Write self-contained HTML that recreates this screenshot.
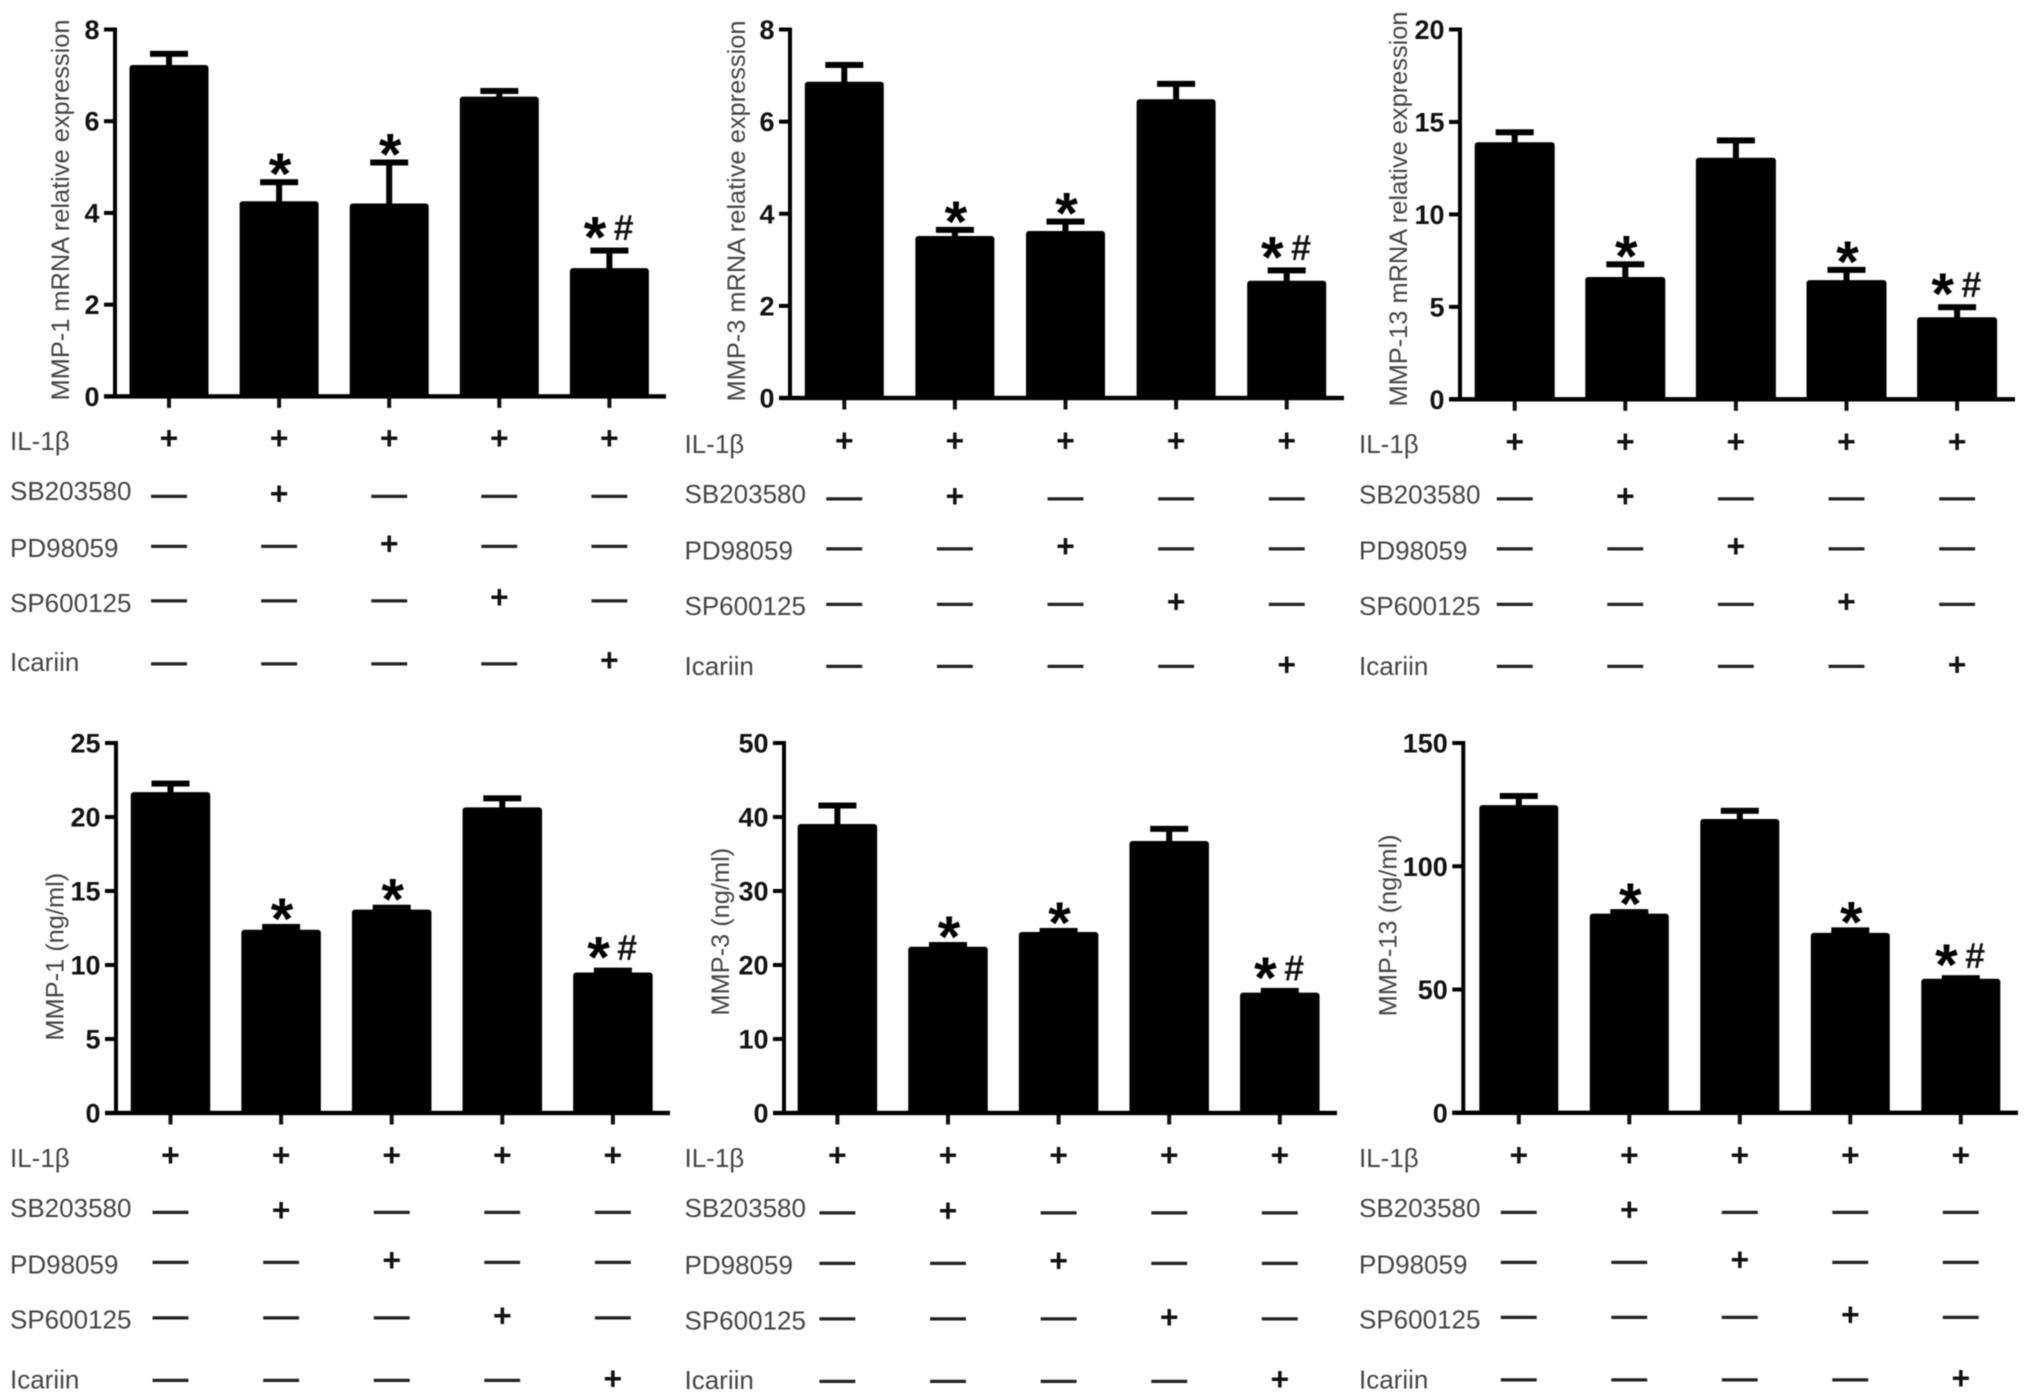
<!DOCTYPE html>
<html lang="en">
<head>
<meta charset="utf-8">
<title>MMP expression bar charts</title>
<style>
html,body{margin:0;padding:0;background:#fff;}
body{width:2031px;height:1400px;overflow:hidden;}
svg{display:block;filter:blur(0.55px);}
text{font-family:"Liberation Sans",Arial,sans-serif;}
</style>
</head>
<body>
<svg id="figure" xmlns="http://www.w3.org/2000/svg" width="2031" height="1400" viewBox="0 0 2031 1400"></svg>
<script>
// ---- shared categories and treatment table ----
const categories = ['IL-1β', 'IL-1β + SB203580', 'IL-1β + PD98059', 'IL-1β + SP600125', 'IL-1β + Icariin'];
const treatmentNames = ['IL-1β', 'SB203580', 'PD98059', 'SP600125', 'Icariin'];
const treatmentRowIL1 = [1, 1, 1, 1, 1];
const treatmentRowSB = [0, 1, 0, 0, 0];
const treatmentRowPD = [0, 0, 1, 0, 0];
const treatmentRowSP = [0, 0, 0, 1, 0];
const treatmentRowIC = [0, 0, 0, 0, 1];

// ---- series values, errors, tick labels, significance marks ----
const mmp1MrnaValues = [7.2, 4.23, 4.18, 6.51, 2.77];
const mmp1MrnaErrors = [0.27, 0.44, 0.92, 0.15, 0.41];
const mmp1MrnaTicks = [0, 2, 4, 6, 8];
const mmp1MrnaMarks = ['', '*', '*', '', '*#'];

const mmp3MrnaValues = [6.84, 3.49, 3.6, 6.46, 2.52];
const mmp3MrnaErrors = [0.39, 0.16, 0.23, 0.36, 0.25];
const mmp3MrnaTicks = [0, 2, 4, 6, 8];
const mmp3MrnaMarks = ['', '*', '*', '', '*#'];

const mmp13MrnaValues = [13.84, 6.55, 13.0, 6.38, 4.37];
const mmp13MrnaErrors = [0.6, 0.75, 1.0, 0.62, 0.61];
const mmp13MrnaTicks = [0, 5, 10, 15, 20];
const mmp13MrnaMarks = ['', '*', '', '*', '*#'];

const mmp1ProteinValues = [21.6, 12.3, 13.66, 20.57, 9.41];
const mmp1ProteinErrors = [0.66, 0.27, 0.21, 0.69, 0.21];
const mmp1ProteinTicks = [0, 5, 10, 15, 20, 25];
const mmp1ProteinMarks = ['', '*', '*', '', '*#'];

const mmp3ProteinValues = [38.9, 22.3, 24.3, 36.6, 16.1];
const mmp3ProteinErrors = [2.65, 0.4, 0.3, 1.8, 0.4];
const mmp3ProteinTicks = [0, 10, 20, 30, 40, 50];
const mmp3ProteinMarks = ['', '*', '*', '', '*#'];

const mmp13ProteinValues = [124.3, 80.3, 118.7, 72.5, 53.9];
const mmp13ProteinErrors = [4.2, 1.1, 3.8, 1.5, 0.7];
const mmp13ProteinTicks = [0, 50, 100, 150];
const mmp13ProteinMarks = ['', '*', '', '*', '*#'];

// ---- panel layout (geometry only) ----
const panelList = [
  {id:'mmp1-mrna', title:'MMP-1 mRNA relative expression', values:mmp1MrnaValues, errors:mmp1MrnaErrors, ticks:mmp1MrnaTicks, marks:mmp1MrnaMarks,
   axisX:115, top:29.5, base:396.4, first:169, step:110.1, barW:79, endX:666, titleX:60, titleY:210, labelX:10,
   textY:[441,491,548,603,662], plusY:[438.4,493.8,543.8,597.3,660.7], dashY:[438,496,546,600.4,663.4]},
  {id:'mmp3-mrna', title:'MMP-3 mRNA relative expression', values:mmp3MrnaValues, errors:mmp3MrnaErrors, ticks:mmp3MrnaTicks, marks:mmp3MrnaMarks,
   axisX:790, top:29.5, base:398, first:844.3, step:110.6, barW:79, endX:1344, titleX:736, titleY:211, labelX:684.5,
   textY:[444,494,550.4,606,666], plusY:[441,496.4,546.4,601.8,665], dashY:[441,498.2,548.2,603.6,666]},
  {id:'mmp13-mrna', title:'MMP-13 mRNA relative expression', values:mmp13MrnaValues, errors:mmp13MrnaErrors, ticks:mmp13MrnaTicks, marks:mmp13MrnaMarks,
   axisX:1460, top:29.5, base:399.3, first:1514.7, step:110.6, barW:80, endX:2015, titleX:1397.8, titleY:209, labelX:1359,
   textY:[444,494.6,550.4,606,666], plusY:[442,496.4,546.4,602,665], dashY:[442,498.2,548.2,603.6,666]},
  {id:'mmp1-protein', title:'MMP-1 (ng/ml)', values:mmp1ProteinValues, errors:mmp1ProteinErrors, ticks:mmp1ProteinTicks, marks:mmp1ProteinMarks,
   axisX:116, top:743, base:1113, first:170.5, step:110.6, barW:79.5, endX:670, titleX:54.5, titleY:956.7, labelX:10,
   textY:[1158,1208,1264.7,1319.6,1379.5], plusY:[1155.4,1210.3,1260.3,1316,1379], dashY:[1155,1211.6,1261.6,1317.4,1380]},
  {id:'mmp3-protein', title:'MMP-3 (ng/ml)', values:mmp3ProteinValues, errors:mmp3ProteinErrors, ticks:mmp3ProteinTicks, marks:mmp3ProteinMarks,
   axisX:784, top:743, base:1113, first:837.4, step:110.6, barW:79.5, endX:1337, titleX:720, titleY:931.7, labelX:684.5,
   textY:[1158,1208,1265,1320.5,1380], plusY:[1155.4,1211,1261,1317.4,1379.5], dashY:[1155,1212.5,1263,1318.3,1380.8]},
  {id:'mmp13-protein', title:'MMP-13 (ng/ml)', values:mmp13ProteinValues, errors:mmp13ProteinErrors, ticks:mmp13ProteinTicks, marks:mmp13ProteinMarks,
   axisX:1463.3, top:743, base:1112.8, first:1518.8, step:110.5, barW:79, endX:2018, titleX:1387.4, titleY:925.4, labelX:1359,
   textY:[1158,1208,1264.7,1319.6,1379.5], plusY:[1155.4,1210,1260,1315,1378.6], dashY:[1155,1211.6,1261.6,1317,1379.5]}
];
const treatmentRows = [treatmentRowIL1, treatmentRowSB, treatmentRowPD, treatmentRowSP, treatmentRowIC];

const NS = 'http://www.w3.org/2000/svg';
const figure = document.getElementById('figure');

function make(parent, tag, props, content) {
  const node = document.createElementNS(NS, tag);
  Object.keys(props).forEach(function (k) { node.setAttribute(k, props[k]); });
  if (content !== undefined) node.textContent = content;
  parent.appendChild(node);
  return node;
}

panelList.forEach(function (p) {
  const yMax = p.ticks[p.ticks.length - 1];
  const yScale = function (v) { return p.base - (v / yMax) * (p.base - p.top); };
  const xScale = function (i) { return p.first + p.step * i; };

  const g = make(figure, 'g', {});
  
  

  // y-axis title
  const title = make(g, 'text', {
    'font-size': 25.4, fill: '#444', 'text-anchor': 'middle',
    transform: 'translate(' + (p.titleX + 9) + ' ' + p.titleY + ') rotate(-90)'
  }, p.title);
  
  

  // bars and error bars
  p.values.forEach(function (v, i) {
    const cx = xScale(i);
    const barTop = yScale(v) - 1.2;
    const capY = yScale(v + p.errors[i]);
    const capW = 38;

    const stem = make(g, 'rect', { x: cx - 3, y: capY, width: 6, height: barTop - capY + 3, fill: '#000' });
    
    

    const cap = make(g, 'rect', { x: cx - capW / 2, y: capY - 3, width: capW, height: 6, fill: '#000' });
    
    

    const bar = make(g, 'rect', { x: cx - p.barW / 2, y: barTop, width: p.barW, height: p.base - barTop + 1, rx: 3, fill: '#000' });
    
    
    make(bar, 'title', {}, categories[i]);

    // significance marks
    const m = p.marks[i];
    if (m === '*') {
      const star = make(g, 'text', { x: cx + 1, y: capY - 16 + 28, 'font-size': 58, 'font-weight': 700, fill: '#000', 'text-anchor': 'middle' }, '*');
      
      
    } else if (m === '*#') {
      const star2 = make(g, 'text', { x: cx - 14.4, y: capY - 21 + 28, 'font-size': 58, 'font-weight': 700, fill: '#000', 'text-anchor': 'middle' }, '*');
      
      
      const hash = make(g, 'text', { x: cx + 14.3, y: capY - 23 + 12.6, 'font-size': 36, 'font-weight': 700, fill: '#111', 'text-anchor': 'middle' }, '#');
      
      
    }

    // x tick
    const xTick = make(g, 'rect', { x: cx - 2, y: p.base, width: 4, height: 11.5, fill: '#111' });
    
    
  });

  // axes
  const yAxis = make(g, 'rect', { x: p.axisX - 2, y: p.top - 2, width: 4, height: p.base - p.top + 4, fill: '#000' });
  
  

  const xAxis = make(g, 'rect', { x: p.axisX - 11, y: p.base - 2.2, width: p.endX - p.axisX + 11, height: 4.4, fill: '#000' });
  
  

  // y ticks and labels
  p.ticks.forEach(function (t) {
    const y = yScale(t);
    const tick = make(g, 'rect', { x: p.axisX - 11, y: y - 2, width: 11, height: 4, fill: '#000' });
    
    

    const lab = make(g, 'text', { x: p.axisX - 15.5, y: y + 9.5, 'font-size': 27, 'font-weight': 700, fill: '#111', 'text-anchor': 'end' }, String(t));
    
    
  });

  // treatment table
  treatmentNames.forEach(function (name, r) {
    const rowLabel = make(g, 'text', { x: p.labelX, y: p.textY[r] + 9, 'font-size': 26, fill: '#444' }, name);
    
    

    treatmentRows[r].forEach(function (on, c) {
      const cx = xScale(c);
      if (on) {
        const plus = make(g, 'text', { x: cx, y: p.plusY[r] + 10.5, 'font-size': 32, 'font-weight': 700, fill: '#111', 'text-anchor': 'middle' }, '+');
        
        
      } else {
        const dash = make(g, 'text', { x: cx, y: p.dashY[r] + 9.7, 'font-size': 35, fill: '#222', stroke: '#222', 'stroke-width': 0.9, 'text-anchor': 'middle' }, '—');
        
        
      }
    });
  });
});
</script>
</body>
</html>
